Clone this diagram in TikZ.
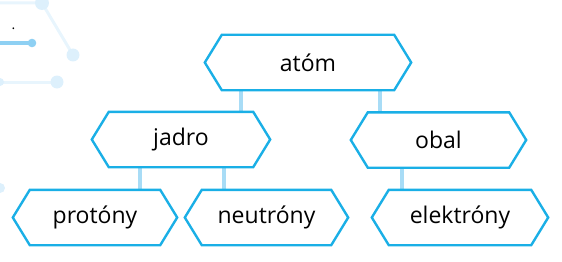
\documentclass[tikz,border=0pt]{standalone}
\usepackage{fontspec}
\setmainfont{Open Sans}
\usetikzlibrary{calc}
\definecolor{hexblue}{HTML}{1AAFE6}
\definecolor{connblue}{HTML}{A8DCF6}
\definecolor{decofaint}{HTML}{E8F5FD}
\definecolor{decomid}{HTML}{8ED0F3}
\definecolor{decolight}{HTML}{DDF0FC}
\begin{document}
\begin{tikzpicture}[x=1pt,y=-1pt,
  hexbox/.style={minimum height=55pt, inner sep=0pt, font=\fontsize{23}{27}\selectfont, text=black},
  hexline/.style={draw=hexblue, line width=2.4pt, line join=miter},
  conn/.style={draw=connblue, line width=4pt},
  decoline/.style={draw=decofaint, line width=3pt},
  decodot/.style={fill=decolight}]
\useasboundingbox (0,0) rectangle (562,262);
% background decoration
\draw[decoline] (-5,3) -- (42,3) -- (73,55);
\fill[decodot] (42,3) circle (7);
\fill[decodot] (73,55) circle (6.5);
\draw[decoline] (-5,82) -- (57,82);
\fill[decodot] (57,82) circle (6.5);
\fill[decodot] (0,82) circle (4);
\fill[decodot] (0,188) circle (5);
\draw[draw=decomid, line width=3.5pt] (-5,43) -- (32,43);
\fill[decomid] (32,43) circle (4.3);
\node[inner sep=0pt, font=\fontsize{14}{16}\selectfont] (dot) at (13.5,29) {.};
% nodes
\node[hexbox, minimum width=206pt] (atom) at (308,62.5) {atóm};
\node[hexbox, minimum width=178pt] (jadro) at (181,139.5) {jadro};
\node[hexbox, minimum width=175pt] (obal) at (438.5,140) {obal};
\node[hexbox, minimum width=164pt] (protony) at (95,217.5) {protóny};
\node[hexbox, minimum width=163pt] (neutrony) at (266.5,217.5) {neutróny};
\node[hexbox, minimum width=176pt] (elektrony) at (460,217.5) {elektróny};
% connectors
\draw[conn] ($(atom.south)+(-67,0)$) -- ($(jadro.north)+(60,0)$);
\draw[conn] ($(atom.south)+(72,0)$) -- ($(obal.north)+(-58.5,0)$);
\draw[conn] ($(jadro.south)+(-41,0)$) -- ($(protony.north)+(45,0)$);
\draw[conn] ($(jadro.south)+(43,0)$) -- ($(neutrony.north)+(-42.5,0)$);
\draw[conn] ($(obal.south)+(-36.5,0)$) -- ($(elektrony.north)+(-58,0)$);
% hexagon outlines
\foreach \n in {atom,jadro,obal,protony,neutrony,elektrony}{
  \draw[hexline] (\n.west) -- ($(\n.north west)+(17,0)$) -- ($(\n.north east)+(-17,0)$)
     -- (\n.east) -- ($(\n.south east)+(-17,0)$) -- ($(\n.south west)+(17,0)$) -- cycle;
}
\end{tikzpicture}
\end{document}
